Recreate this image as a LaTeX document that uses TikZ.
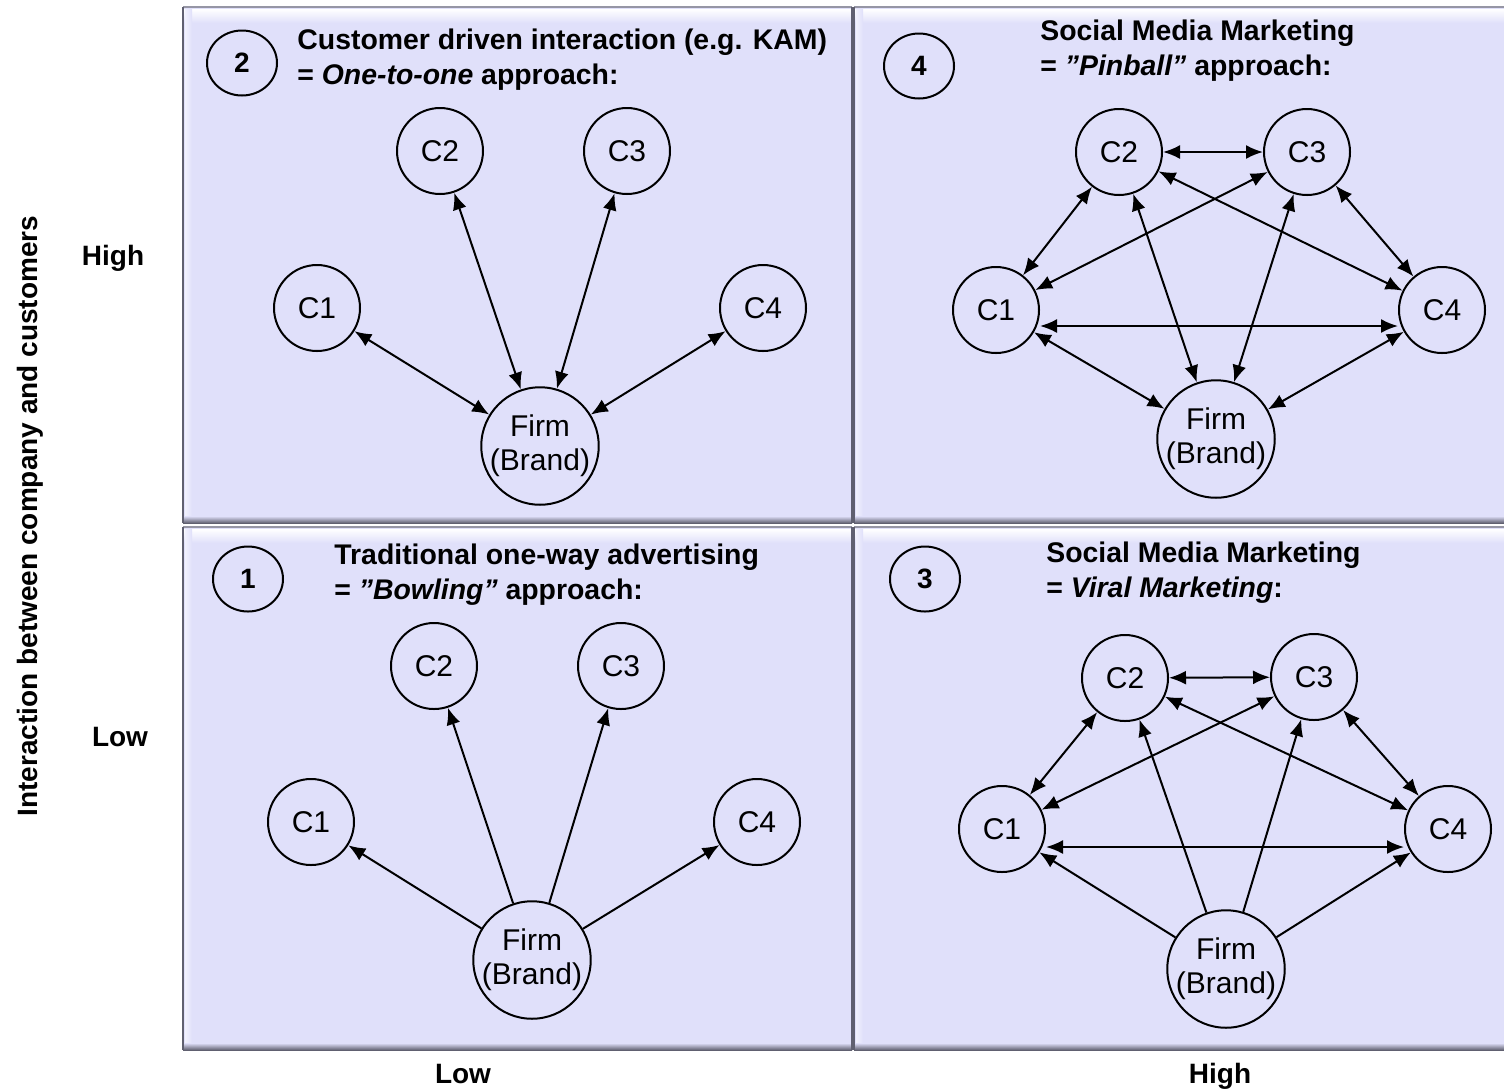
\documentclass[tikz,border=0pt]{standalone}
\usepackage{fontspec}
\setmainfont{Liberation Sans}
\usetikzlibrary{arrows.meta,shapes.geometric}

\definecolor{panelfill}{RGB}{224,224,250}
\definecolor{edgedark}{RGB}{96,96,112}
\definecolor{edgegray}{RGB}{150,150,165}

% one bevelled quadrant: x1 y1 x2 y2 (pixel grid, y grows downwards)
\newcommand\bevelbox[4]{%
  \fill[panelfill] (#1,#2) rectangle (#3,#4);
  \shade[top color=white, bottom color=panelfill] (#1,#2+2) rectangle (#3,#2+16);
  \shade[left color=white!55!panelfill, right color=panelfill] (#1+2,#2+2) rectangle (#1+9,#4-4);
  \shade[top color=panelfill, bottom color=edgedark] (#1,#4-7) rectangle (#3,#4);
  \draw[edgegray, line width=0.6pt] (#1,#2) -- (#3,#2);
  \draw[edgedark, line width=1.2pt] (#1,#2) -- (#1,#4);
  \draw[edgedark, line width=1.4pt] (#3,#2) -- (#3,#4);
}

\tikzset{
  cust/.style={circle, draw, line width=1pt, minimum size=43pt, inner sep=0pt,
               font=\fontsize{15}{17}\selectfont, align=center},
  firm/.style={cust, minimum size=58pt},
  badge/.style={ellipse, draw, line width=1pt, minimum width=35pt, minimum height=32.5pt,
                inner sep=0pt, font=\bfseries\fontsize{14}{17}\selectfont},
  heading/.style={anchor=west, align=left, inner sep=0pt,
                  font=\bfseries\fontsize{14.2}{17.5}\selectfont},
  axislabel/.style={font=\bfseries\fontsize{14}{17}\selectfont, anchor=base},
  both/.style={line width=1pt, {Latex[length=8.5pt,width=7pt]}-{Latex[length=8.5pt,width=7pt]}},
  oneway/.style={line width=1pt, -{Latex[length=8.5pt,width=7pt]}},
}

\begin{document}
\begin{tikzpicture}[x=0.5pt,y=-0.5pt]
\clip (0,0) rectangle (1504,1089);
\fill[white] (0,0) rectangle (1504,1089);

% quadrants
\bevelbox{183}{7}{852}{523}
\bevelbox{854}{7}{1512}{523}
\bevelbox{183}{527}{852}{1050}
\bevelbox{854}{527}{1512}{1050}

% axis labels
\node[axislabel, anchor=center, rotate=90] (yaxis) at (30,516) {Interaction between company and customers};
\node[axislabel] (yhigh) at (113,265) {High};
\node[axislabel] (ylow) at (120,746) {Low};
\node[axislabel] (xlow) at (463,1083) {Low};
\node[axislabel] (xhigh) at (1220,1083) {High};

% ---- quadrant 2: one-to-one ----
\node[badge] (b2) at (242,63) {2};
\node[heading] (t2) at (297,60) {Customer driven interaction (e.g. KAM)\\= \textit{One-to-one} approach:};
\node[cust] (p2c1) at (317,308) {C1};
\node[cust] (p2c2) at (440,151) {C2};
\node[cust] (p2c3) at (627,151) {C3};
\node[cust] (p2c4) at (763,308) {C4};
\node[firm] (p2f) at (540,446) {Firm\\(Brand)};
\draw[both] (p2c1) -- (p2f);
\draw[both] (p2c2) -- (p2f);
\draw[both] (p2c3) -- (p2f);
\draw[both] (p2c4) -- (p2f);

% ---- quadrant 4: pinball ----
\node[badge] (b4) at (919,66) {4};
\node[heading] (t4) at (1040,51) {Social Media Marketing\\= \textit{”Pinball”} approach:};
\node[cust] (p4c1) at (996,310) {C1};
\node[cust] (p4c2) at (1119,152) {C2};
\node[cust] (p4c3) at (1307,152) {C3};
\node[cust] (p4c4) at (1442,310) {C4};
\node[firm] (p4f) at (1216,439) {Firm\\(Brand)};
\draw[both] (p4c2) -- (p4c3);
\draw[both] (p4c1) -- (p4c2);
\draw[both] (p4c1) -- (p4c3);
\draw[both] (p4c2) -- (p4c4);
\draw[both] (p4c3) -- (p4c4);
\draw[both] ([yshift=-8pt]p4c1.east) -- ([yshift=-8pt]p4c4.west);
\draw[both] (p4c2) -- (p4f);
\draw[both] (p4c3) -- (p4f);
\draw[both] (p4c1) -- (p4f);
\draw[both] (p4c4) -- (p4f);

% ---- quadrant 1: bowling ----
\node[badge] (b1) at (248,579) {1};
\node[heading] (t1) at (334,575) {Traditional one-way advertising\\= \textit{”Bowling”} approach:};
\node[cust] (p1c1) at (311,822) {C1};
\node[cust] (p1c2) at (434,666) {C2};
\node[cust] (p1c3) at (621,666) {C3};
\node[cust] (p1c4) at (757,822) {C4};
\node[firm] (p1f) at (532,960) {Firm\\(Brand)};
\draw[oneway] (p1f) -- (p1c1);
\draw[oneway] (p1f) -- (p1c2);
\draw[oneway] (p1f) -- (p1c3);
\draw[oneway] (p1f) -- (p1c4);

% ---- quadrant 3: viral ----
\node[badge] (b3) at (925,579) {3};
\node[heading] (t3) at (1046,573) {Social Media Marketing\\= \textit{Viral Marketing}:};
\node[cust] (p3c1) at (1002,829) {C1};
\node[cust] (p3c2) at (1125,678) {C2};
\node[cust] (p3c3) at (1314,677) {C3};
\node[cust] (p3c4) at (1448,829) {C4};
\node[firm] (p3f) at (1226,969) {Firm\\(Brand)};
\draw[both] (p3c2) -- (p3c3);
\draw[both] (p3c1) -- (p3c2);
\draw[both] (p3c1) -- (p3c3);
\draw[both] (p3c2) -- (p3c4);
\draw[both] (p3c3) -- (p3c4);
\draw[both] ([yshift=-9pt]p3c1.east) -- ([yshift=-9pt]p3c4.west);
\draw[oneway] (p3f) -- (p3c1);
\draw[oneway] (p3f) -- (p3c2);
\draw[oneway] (p3f) -- (p3c3);
\draw[oneway] (p3f) -- (p3c4);
\end{tikzpicture}
\end{document}
